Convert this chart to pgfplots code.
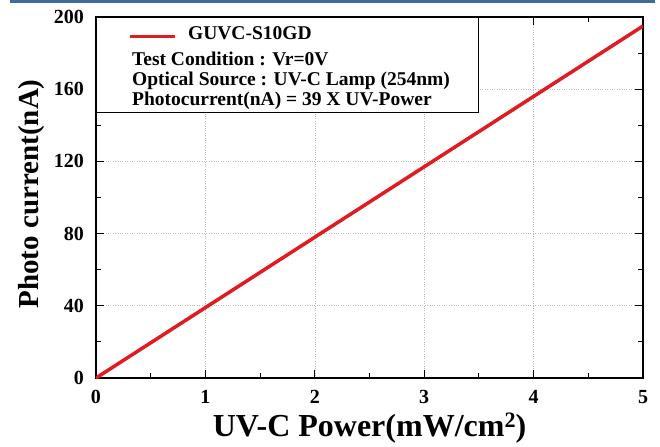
\documentclass[border=0pt]{standalone}
\usepackage{fontspec}
\setmainfont{Liberation Serif}
\usepackage{pgfplots}
\pgfplotsset{compat=1.18}
\definecolor{uvred}{HTML}{E01B22}
\definecolor{topblue}{HTML}{3F6A9E}
\definecolor{gridgray}{HTML}{B8B8B8}

\begin{document}
\begin{tikzpicture}
\path (-96pt,-68pt) rectangle (564pt,378pt);
\fill[topblue] (-86pt,375pt) rectangle (559pt,378pt);
\begin{axis}[
  at={(0,0)},anchor=south west,scale only axis,
  width=547pt,height=361pt,
  xmin=0,xmax=5,ymin=0,ymax=200,
  xtick={0,1,2,3,4,5},ytick={0,40,80,120,160,200},
  minor x tick num=1,minor y tick num=1,
  tick align=inside,
  major tick length=8pt,minor tick length=5pt,
  axis line style={line width=1.2pt},
  every tick/.style={black,line width=1.1pt},
  grid=major,grid style={draw=gridgray,dotted,line width=0.6pt},
  /pgf/number format/assume math mode=true,
  tick label style={font=\bfseries\fontsize{20}{20}\selectfont},
  xticklabel style={inner sep=0pt,anchor=north,yshift=-12pt},
  yticklabel style={inner sep=0pt,anchor=east,xshift=-12pt},
  xlabel={UV-C Power(mW/cm\raisebox{0.55ex}{\fontsize{22}{22}\selectfont 2})},
  ylabel={Photo current(nA)},
  xlabel style={font=\bfseries\fontsize{32}{32}\selectfont,
    at={(axis description cs:0.5,-0.1607)},anchor=base},
  ylabel style={font=\bfseries\fontsize{29}{29}\selectfont,
    at={(axis description cs:-0.117,0.51)},anchor=center},
  legend style={at={(rel axis cs:0,1)},anchor=north west,
    draw=black,line width=0.8pt,fill=white,
    inner xsep=10pt,inner ysep=2pt,
    column sep=11pt,row sep=0pt,
    font=\bfseries\fontsize{19.5}{20}\selectfont,
    nodes={inner xsep=0pt,inner ysep=0pt,text height=15pt,text depth=5pt}},
  legend cell align=left,
  legend image code/.code={
    \path[draw=none,fill=none] (0pt,-15.5pt) rectangle (69pt,15.5pt);
    \draw[#1,line width=3.5pt] (24pt,-1.5pt) -- (69pt,-1.5pt);},
]
\addplot[uvred,line width=3.5pt] coordinates {(0,0) (5,195)};
\addlegendentry{GUVC-S10GD}
\addlegendimage{empty legend}
\addlegendentry{\hspace{-56pt}Test Condition : Vr=0V}
\addlegendimage{empty legend}
\addlegendentry{\hspace{-56pt}\makebox[336pt][l]{Optical Source : UV-C Lamp (254nm)}}
\addlegendimage{empty legend}
\addlegendentry{\hspace{-56pt}Photocurrent(nA) = 39 X UV-Power}
\end{axis}
\end{tikzpicture}
\end{document}
